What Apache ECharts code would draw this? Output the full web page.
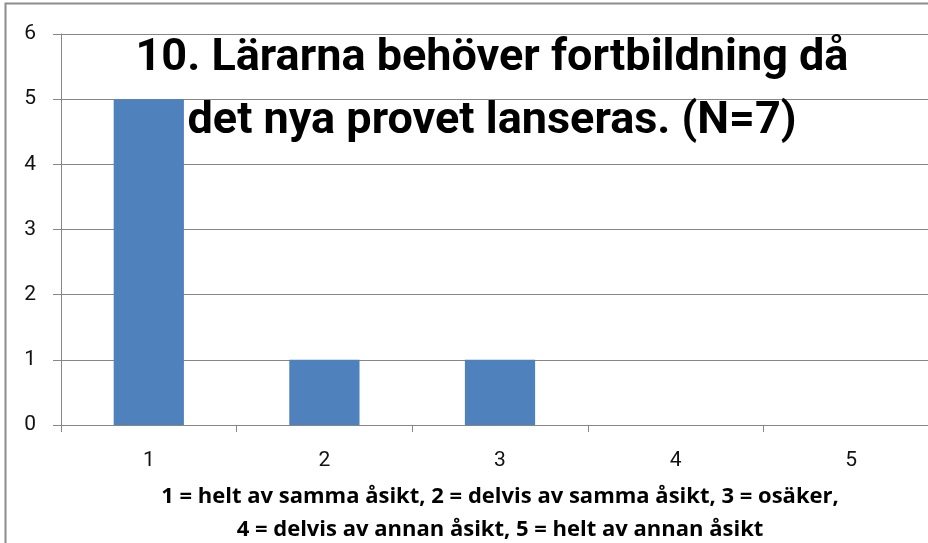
<!DOCTYPE html>
<html><head><meta charset="utf-8">
<script src="https://cdn.jsdelivr.net/npm/echarts@6/dist/echarts.min.js"></script>
<style>html,body{margin:0;padding:0;background:#fff}#c{width:928px;height:543px}</style>
</head><body><div id="c"></div>
<script>
const categories = ['1', '2', '3', '4', '5'];
const values = [5, 1, 1, 0, 0];
const titleLines = ['10. Lärarna behöver fortbildning då', 'det nya provet lanseras. (N=7)'];
const axisNameLines = ['1 = helt av samma åsikt, 2 = delvis av samma åsikt, 3 = osäker,', '4 = delvis av annan åsikt, 5 = helt av annan åsikt'];

const chart = echarts.init(document.getElementById('c'));
const FONT = 'Roboto, "Noto Sans", sans-serif';
chart.setOption({
  animation: false,
  backgroundColor: '#fff',
  title: {
    text: titleLines.join('\n'),
    left: 487, top: 22, textAlign: 'center',
    textStyle: {fontFamily: FONT, fontWeight: 'bold', fontSize: 45, lineHeight: 63, color: '#000'}
  },
  grid: {left: 61, right: -11, top: 34, bottom: 118, containLabel: false, outerBoundsMode: 'none'},
  xAxis: {
    type: 'category', data: categories,
    axisLine: {lineStyle: {color: '#868686', width: 1}},
    axisTick: {show: true, length: 7, lineStyle: {color: '#868686'}},
    axisLabel: {fontFamily: FONT, fontSize: 21, color: '#111', margin: 25},
    name: axisNameLines.join('\n'),
    nameLocation: 'middle', nameGap: 55,
    nameTextStyle: {fontFamily: '"Open Sans", sans-serif', fontWeight: 'bold', fontSize: 22, lineHeight: 33, color: '#000', align: 'center'}
  },
  yAxis: {
    type: 'value', min: 0, max: 6, interval: 1,
    axisLine: {show: true, lineStyle: {color: '#868686'}},
    axisTick: {show: true, length: 8, lineStyle: {color: '#868686'}},
    splitLine: {lineStyle: {color: '#868686'}},
    axisLabel: {fontFamily: FONT, fontSize: 21, color: '#111', margin: 25}
  },
  series: [{
    type: 'bar', data: values, barWidth: '40%',
    itemStyle: {color: '#4F81BD'}
  }],
  graphic: [{
    type: 'polyline', silent: true,
    shape: {points: [[5.5, 543], [5.5, 3.5], [928, 3.5]]},
    style: {stroke: '#8c8c8c', lineWidth: 2, fill: null}
  }]
});
</script></body></html>
